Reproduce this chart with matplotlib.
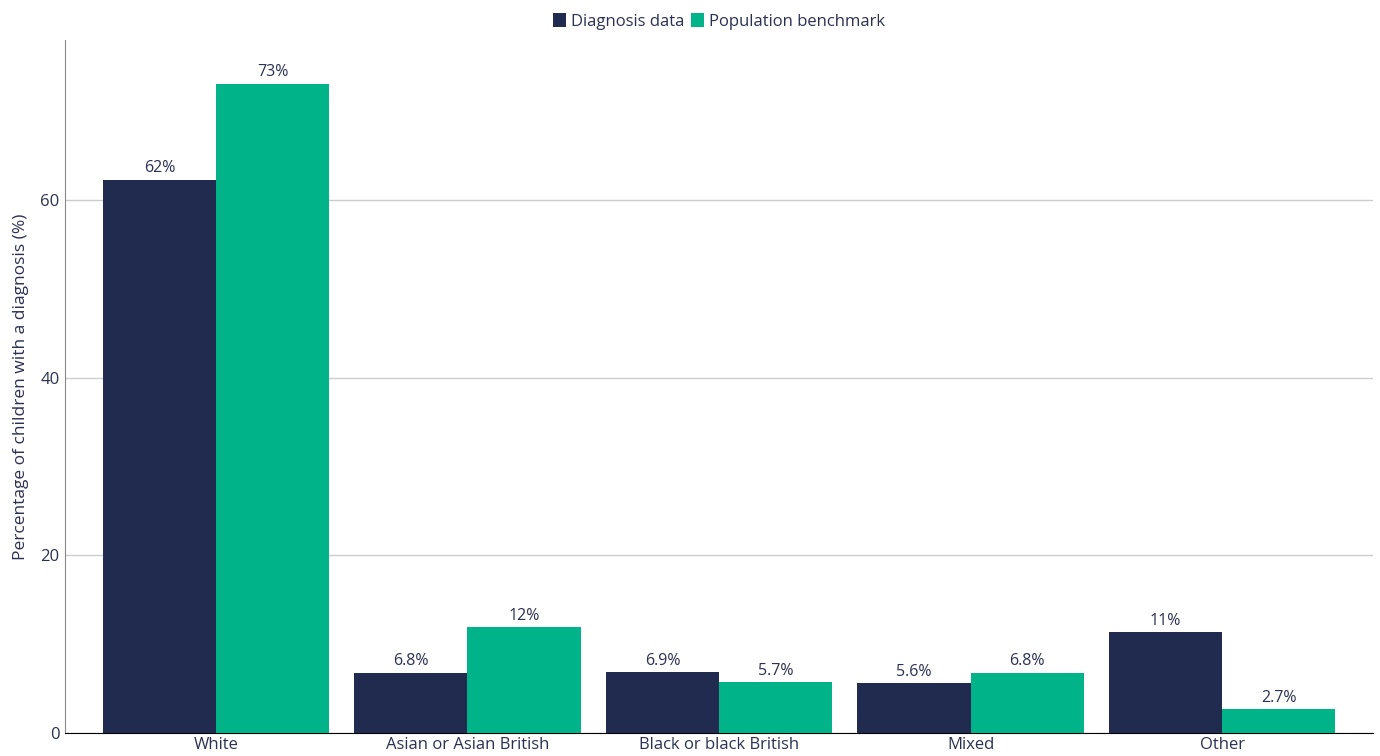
import numpy as np
import matplotlib
matplotlib.use('Agg')
import matplotlib.pyplot as plt

plt.rcParams['font.family'] = ['Open Sans', 'DejaVu Sans']

categories = ['White', 'Asian or Asian British', 'Black or black British', 'Mixed', 'Other']
diagnosis = [62.3, 6.8, 6.9, 5.6, 11.4]
benchmark = [73.1, 11.9, 5.7, 6.8, 2.7]
series_names = ['Diagnosis data', 'Population benchmark']

navy = '#212B4F'
green = '#00B388'
text_col = '#2B3152'

def fmt(v):
    if v >= 10:
        return '%d%%' % round(v)
    return '%.1f%%' % v

fig = plt.figure(figsize=(13.8, 7.56), dpi=100)
ax = fig.add_axes([0.0471, 0.0304, 0.9479, 0.9166])

x = np.arange(len(categories))
w = 0.45
b1 = ax.bar(x - w / 2, diagnosis, w, color=navy, label=series_names[0], zorder=3)
b2 = ax.bar(x + w / 2, benchmark, w, color=green, label=series_names[1], zorder=3)

for bars, vals in [(b1, diagnosis), (b2, benchmark)]:
    for bar, v in zip(bars, vals):
        ax.text(bar.get_x() + bar.get_width() / 2, v + 0.35, fmt(v),
                ha='center', va='bottom', fontsize=11.5, color=text_col)

ax.set_xlim(-0.6, 4.6)
ax.set_ylim(0, 78)
ax.set_yticks([0, 20, 40, 60])
ax.set_xticks(x)
ax.set_xticklabels(categories)
ax.grid(axis='y', color='#CCCCCC', linewidth=1, zorder=0)
ax.tick_params(axis='both', length=0, labelsize=12, colors=text_col, pad=4)
ax.tick_params(axis='x', pad=3)
ax.spines['top'].set_visible(False)
ax.spines['right'].set_visible(False)
ax.spines['left'].set_color('#888888')
ax.spines['bottom'].set_color('black')
ax.set_ylabel('Percentage of children with a diagnosis (%)', fontsize=12.5, color=text_col, labelpad=8)

# legend centred over the plotting area
ax.legend(loc='lower center', bbox_to_anchor=(0.5, 1.005), ncol=2, frameon=False,
          fontsize=12, labelcolor=text_col, handlelength=0.8, handleheight=0.9,
          handletextpad=0.3, columnspacing=0.4, borderaxespad=0)

fig.savefig('out.png', dpi=100)
